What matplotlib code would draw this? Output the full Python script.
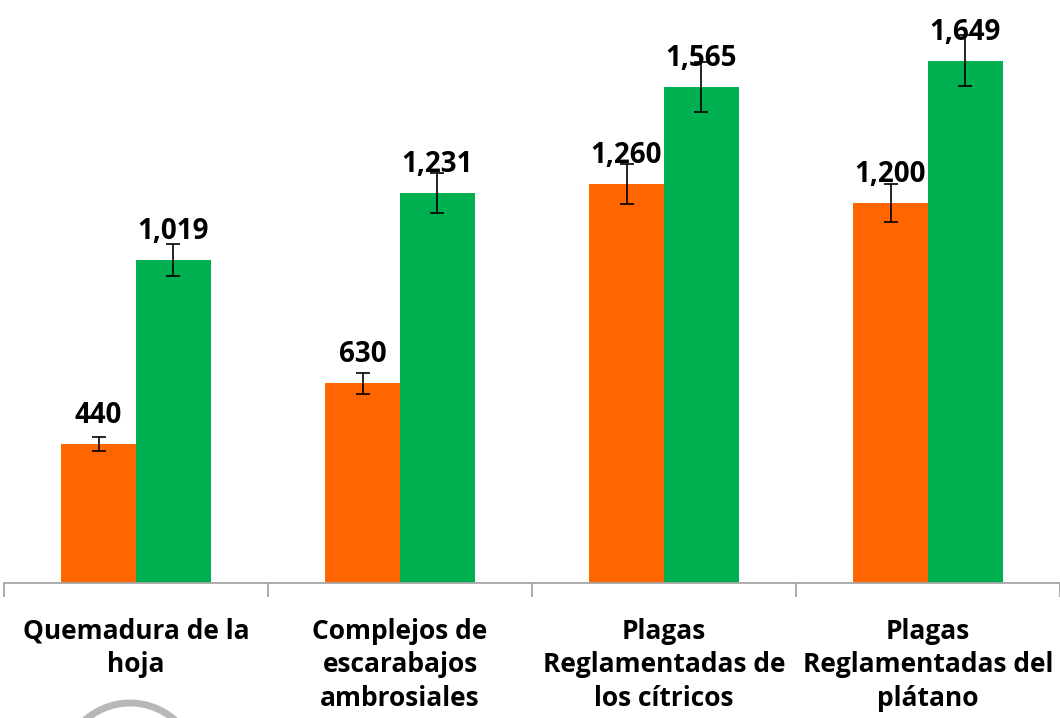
import numpy as np
import matplotlib.pyplot as plt
from matplotlib.patches import Ellipse

categories = ['Quemadura de la\nhoja', 'Complejos de\nescarabajos\nambrosiales',
              'Plagas\nReglamentadas de\nlos cítricos', 'Plagas\nReglamentadas del\nplátano']
orange_vals = [440, 630, 1260, 1200]
green_vals = [1019, 1231, 1565, 1649]
orange_err = [22, 32, 63, 60]
green_err = [51, 62, 78, 82]
labels_orange = ['440', '630', '1,260', '1,200']
labels_green = ['1,019', '1,231', '1,565', '1,649']

plt.rcParams['font.family'] = ['Open Sans', 'DejaVu Sans']

fig = plt.figure(figsize=(10.6, 7.18), dpi=100)
ax = fig.add_axes([4/1060, 135/718, 1056/1060, 583/718])

x = np.arange(len(categories))
w = 0.284
ax.bar(x - w/2, orange_vals, w, color='#FF6600', yerr=orange_err,
       error_kw=dict(ecolor='black', elinewidth=1.2, capsize=5, capthick=1.2))
ax.bar(x + w/2, green_vals, w, color='#00B050', yerr=green_err,
       error_kw=dict(ecolor='black', elinewidth=1.2, capsize=5, capthick=1.2))

for xi, v, t in zip(x - w/2, orange_vals, labels_orange):
    ax.annotate(t, (xi, v), xytext=(0, 10), textcoords='offset points',
                ha='center', va='bottom', fontsize=20, fontweight='bold')
for xi, v, t in zip(x + w/2, green_vals, labels_green):
    ax.annotate(t, (xi, v), xytext=(0, 10), textcoords='offset points',
                ha='center', va='bottom', fontsize=20, fontweight='bold')

ax.set_xlim(-0.5, 3.5)
ax.set_ylim(0, 1840)
ax.set_yticks([])
for s in ['left', 'right', 'top']:
    ax.spines[s].set_visible(False)
ax.spines['bottom'].set_color('#A6A6A6')
ax.spines['bottom'].set_linewidth(1.3)

ax.set_xticks(np.arange(-0.5, 4, 1))
ax.set_xticklabels([])
ax.tick_params(axis='x', which='major', length=10, color='#A6A6A6', width=1.3)
ax.set_xticks(x, minor=True)
ax.set_xticklabels(categories, minor=True, fontsize=19, fontweight='bold',
                   linespacing=1.32)
ax.tick_params(axis='x', which='minor', length=0, pad=25)

# logo partially visible at the bottom-left
fig.patches.append(Ellipse((130/1060, -58/718), 140/1060, 146/718,
                           transform=fig.transFigure, fill=False,
                           edgecolor='#B8B8B8', linewidth=5))

fig.savefig('out.png', dpi=100)
